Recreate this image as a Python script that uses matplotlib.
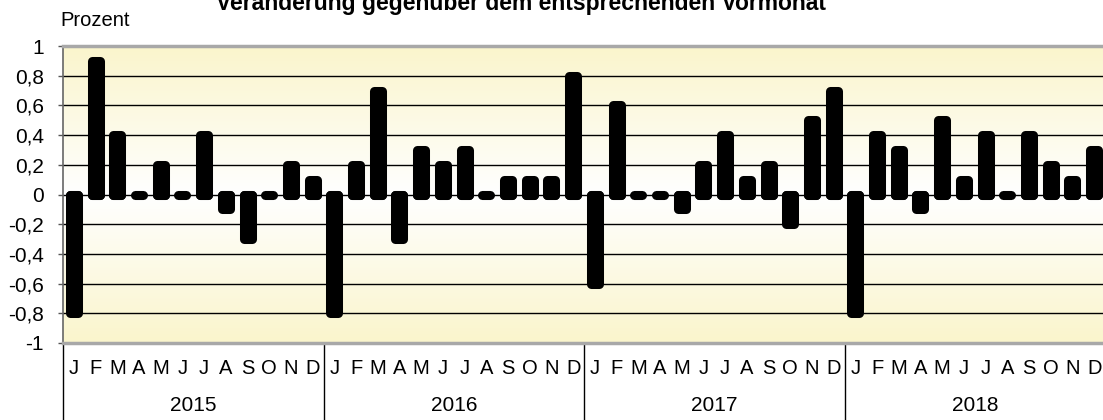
import numpy as np
import matplotlib.pyplot as plt
from matplotlib.colors import LinearSegmentedColormap

# data: change vs. the same month of the previous year, in percent
years = ['2015', '2016', '2017', '2018']
months = ['J', 'F', 'M', 'A', 'M', 'J', 'J', 'A', 'S', 'O', 'N', 'D']
values_2015 = [-0.8, 0.9, 0.4, 0.0, 0.2, 0.0, 0.4, -0.1, -0.3, 0.0, 0.2, 0.1]
values_2016 = [-0.8, 0.2, 0.7, -0.3, 0.3, 0.2, 0.3, 0.0, 0.1, 0.1, 0.1, 0.8]
values_2017 = [-0.6, 0.6, 0.0, 0.0, -0.1, 0.2, 0.4, 0.1, 0.2, -0.2, 0.5, 0.7]
values_2018 = [-0.8, 0.4, 0.3, -0.1, 0.5, 0.1, 0.4, 0.0, 0.4, 0.2, 0.1, 0.3]
y_ticks = [-1, -0.8, -0.6, -0.4, -0.2, 0, 0.2, 0.4, 0.6, 0.8, 1]

values = values_2015 + values_2016 + values_2017 + values_2018
x = np.arange(len(values))
bar_w = 0.37

plt.rcParams['font.family'] = ['Liberation Sans', 'DejaVu Sans']

fig = plt.figure(figsize=(11.03, 4.2), dpi=100)
W, H = 1103, 420
ax = fig.add_axes([63 / W, 1 - 343 / H, 1042 / W, 297 / H])

ax.set_xlim(-0.5, len(values) - 0.5)
ax.set_ylim(-1, 1)

# background gradient: pale yellow at top and bottom, white around zero
cmap = LinearSegmentedColormap.from_list('bg', ['#faf5cc', '#ffffff', '#faf5cc'])
grad = np.linspace(0, 1, 256).reshape(-1, 1)
ax.imshow(grad, extent=[-0.5, len(values) - 0.5, -1, 1], aspect='auto',
          cmap=cmap, zorder=0, interpolation='bicubic')

for t in y_ticks[1:-1]:
    ax.axhline(t, color='black', lw=1.0, zorder=1)

ax.bar(x, values, width=bar_w, color='black', edgecolor='black',
       linewidth=6.5, joinstyle='round', zorder=3)
# base caps so that zero values still show as a small rounded pill
base = ax.hlines(np.zeros(len(values)), x - bar_w / 2, x + bar_w / 2,
                 color='black', lw=6.5, zorder=3)
base.set_capstyle('round')

ax.set_yticks(y_ticks)
ax.set_yticklabels([('%g' % t).replace('.', ',') for t in y_ticks], fontsize=15)
ax.tick_params(axis='y', direction='out', length=3.6, width=1, color='#555555', pad=10)
ax.set_xticks([])

ax.spines['right'].set_visible(False)
ax.spines['left'].set_color('#666666')
ax.spines['left'].set_linewidth(1.2)
ax.spines['top'].set_color('#a8a8a8')
ax.spines['top'].set_linewidth(2.5)
ax.spines['bottom'].set_color('#a8a8a8')
ax.spines['bottom'].set_linewidth(2.5)

# month and year labels below the axis
trans = ax.get_xaxis_transform()
for i, m in enumerate(months * len(years)):
    ax.text(i, -0.085, m, transform=trans, ha='center', va='center', fontsize=14.5)
for k, yr in enumerate(years):
    ax.text(12 * k + 5.5, -0.21, yr, transform=trans, ha='center', va='center', fontsize=15)
    ax.plot([12 * k - 0.5, 12 * k - 0.5], [0, -0.27], transform=trans, color='black',
            lw=1, clip_on=False)

fig.text(60 / W, 1 - 20 / H, 'Prozent', ha='left', va='center', fontsize=14.5)
fig.text(521 / W, 1 - 10 / H, 'Veränderung gegenüber dem entsprechenden Vormonat',
         ha='center', va='baseline', fontsize=16.5, fontweight='bold')

fig.savefig('out.png', dpi=100)
